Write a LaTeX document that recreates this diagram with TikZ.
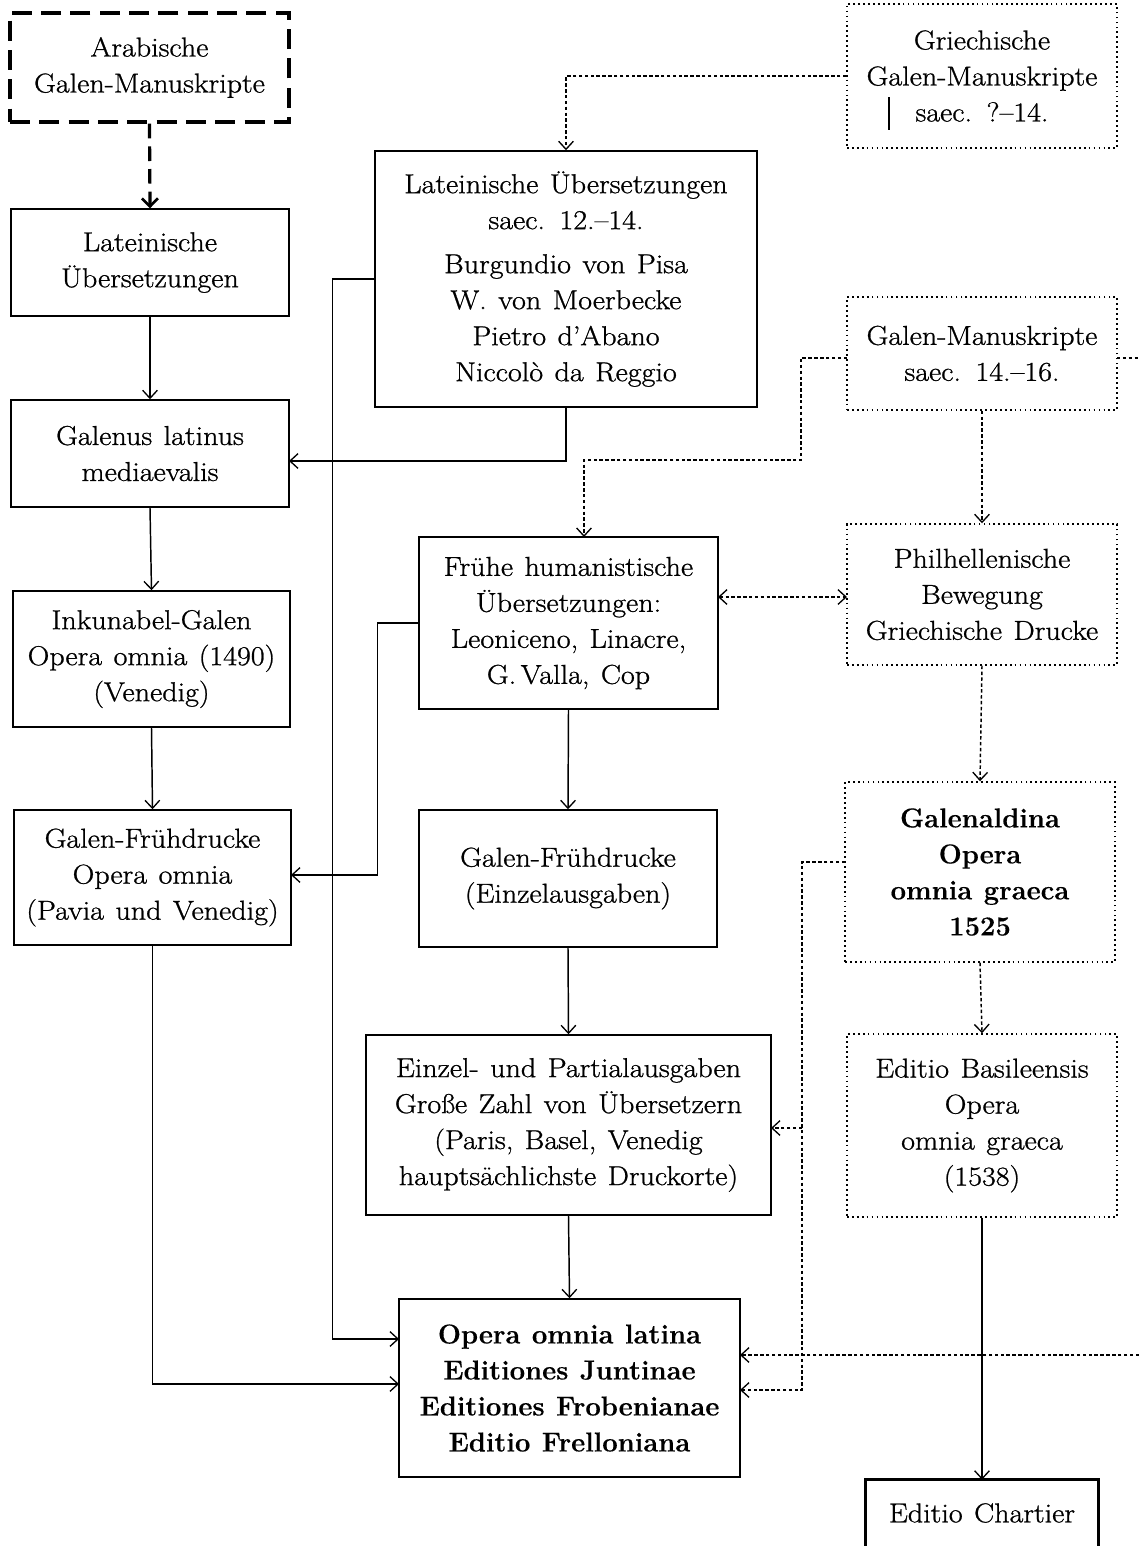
\documentclass[tikz,border=0pt]{standalone}
\usepackage{fontspec}
\usetikzlibrary{arrows.meta}
\newfontfamily\regf{Latin Modern Roman}[Ligatures=TeX, FakeStretch=1.1, FakeBold=0.9]
\newfontfamily\bldf{Latin Modern Roman}[Ligatures=TeX, FakeBold=0.4]
\newcommand\wsp{\spaceskip=0.42em plus 0.1em minus 0.05em\relax}
\begin{document}
\begin{tikzpicture}[x=0.75pt,y=-0.75pt,
  fnt/.style={font=\regf\fontsize{20.5}{27}\selectfont\wsp},
  bfnt/.style={font=\bldf\bfseries\fontsize{20.5}{27}\selectfont\wsp},
  sz/.style 2 args={minimum width=#1*0.75pt, minimum height=#2*0.75pt},
  bx/.style={draw, line width=1.1pt, align=center, inner sep=0pt, fnt},
  dbx/.style={bx, dash pattern=on 1.3pt off 2.4pt},
  dashbx/.style={bx, line width=2.5pt, dash pattern=on 15pt off 7pt},
  tipx/.tip={Straight Barb[length=6pt,width=11pt,line width=1pt]},
  arr/.style={line width=1.1pt, -{tipx}},
  dotln/.style={line width=1.1pt, dash pattern=on 2.6pt off 1.8pt},
  dotarr/.style={dotln, -{tipx}},
  dasharr/.style={line width=2.4pt, dash pattern=on 11pt off 6pt, -{Straight Barb[length=6pt,width=12pt,line width=2pt]}}
]
\useasboundingbox (0,0) rectangle (1139,1546);

% left column
\node[dashbx, sz={279}{109}] (arab) at (149.5,67.5) {Arabische\\Galen-Manuskripte};
\node[bx, sz={278}{107}] (latl) at (150,262.5) {Lateinische\\Übersetzungen};
\node[bx, sz={278}{107}] (galm) at (150,453.5) {Galenus latinus\\mediaevalis};
\node[bx, sz={277}{136}] (inku) at (151.5,659) {Inkunabel-Galen\\Opera omnia (1490)\\(Venedig)};
\node[bx, sz={277}{135}] (gfl) at (152.5,877.5) {Galen-Frühdrucke\\Opera omnia\\(Pavia und Venedig)};

% center column
\node[bx, sz={382}{256}] (latc) at (566,279) {Lateinische Übersetzungen\\saec. 12.–14.\\[6pt]Burgundio von Pisa\\W. von Moerbecke\\Pietro d’Abano\\Niccolò da Reggio};
\node[bx, sz={299}{172}] (fruh) at (568.5,623) {Frühe humanistische\\Übersetzungen:\\Leoniceno, Linacre,\\G.\,Valla, Cop};
\node[bx, sz={298}{137}] (gfe) at (568,878.5) {Galen-Frühdrucke\\(Einzelausgaben)};
\node[bx, sz={405}{180}] (einz) at (568.5,1125) {Einzel- und Partialausgaben\\Große Zahl von Übersetzern\\(Paris, Basel, Venedig\\hauptsächlichste Druckorte)};
\node[bx, bfnt, sz={341}{178}] (oper) at (569.5,1388) {Opera omnia latina\\Editiones Juntinae\\Editiones Frobenianae\\Editio Frelloniana};

% right column
\node[dbx, sz={270}{144}] (grie) at (982,76) {Griechische\\Galen-Manuskripte\\saec. ?–14.};
\node[dbx, sz={270}{113}] (gman) at (982,353.5) {Galen-Manuskripte\\saec. 14.–16.};
\node[dbx, sz={270}{141}] (phil) at (982,594.5) {Philhellenische\\Bewegung\\Griechische Drucke};
\node[dbx, bfnt, sz={270}{180}] (gald) at (980,872) {Galenaldina\\Opera\\omnia graeca\\1525};
\node[dbx, sz={270}{183}] (basi) at (982,1125.5) {Editio Basileensis\\Opera\\omnia graeca\\(1538)};
\node[fnt, inner sep=0pt, sz={232}{66}] (char) at (982,1513) {Editio Chartier};
\draw[line width=2.2pt] (char.south west) -- (char.north west) -- (char.north east) -- (char.south east);

% mark inside Griechische box
\draw[line width=1.1pt] (889,97) -- (889,130);

% helper coordinates
\coordinate (oL1) at (399,1339);
\coordinate (oL2) at (399,1384);
\coordinate (gE) at (289,461);
\coordinate (fE) at (291,875);
\coordinate (fr1) at (718,597);
\coordinate (ph1) at (847,597);
\coordinate (gm1) at (847,358);
\coordinate (gm2) at (1117,358);
\coordinate (rim1) at (1139,358);
\coordinate (rim2) at (1139,1355);
\coordinate (oR1) at (740,1355);
\coordinate (oR2) at (740,1390);
\coordinate (ga1) at (845,862);
\coordinate (eR) at (771,1128);
\coordinate (v802) at (802,1128);
\coordinate (fN) at (584,537);

% left column connectors
\draw[dasharr] (arab.south) -- (latl.north);
\draw[arr] (latl.south) -- (galm.north);
\draw[arr] (galm.south) -- (inku.north);
\draw[arr] (inku.south) -- (gfl.north);
\draw[arr] (gfl.south) |- (oL2);

% center connectors
\draw[arr] (latc.west) -- ++(-42,0) |- (oL1);
\draw[arr] (latc.south) |- (gE);
\draw[arr] (fruh.west) -- ++(-41,0) |- (fE);
\draw[arr] (fruh.south) -- (gfe.north);
\draw[arr] (gfe.south) -- (einz.north);
\draw[arr] (einz.south) -- (oper.north);

% right side connectors
\draw[dotln, {tipx}-{tipx}] (fr1) -- (ph1);
\draw[dotarr] (grie.west) -| (latc.north);
\draw[dotarr] (gm1) -- (801,358) -- (801,460) -| (fN);
\draw[dotln] (gm2) -- (rim1);
\draw[dotarr] (rim2) -- (oR1);
\draw[dotarr] (gman.south) -- (phil.north);
\draw[dotarr] (phil.south) -- (gald.north);
\draw[dotarr] (gald.south) -- (basi.north);
\draw[dotarr] (ga1) -- (802,862) |- (oR2);
\draw[dotarr] (v802) -- (eR);
\draw[arr] (basi.south) -- (char.north);
\end{tikzpicture}
\end{document}
